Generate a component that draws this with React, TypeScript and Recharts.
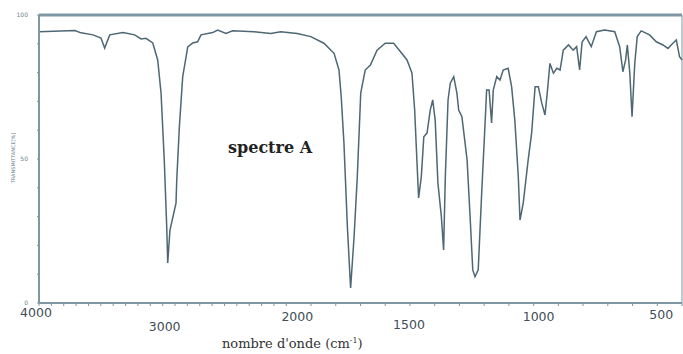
import { LineChart, Line, XAxis, YAxis, ReferenceLine } from 'recharts'

// wavenumber (cm-1) and transmittance (%)
const WAVENUMBERS = [
  4000, 3710, 3660, 3563, 3499, 3469, 3428, 3321, 3226, 3175, 3135, 3080, 3040, 3013, 2987, 2967,
  2959, 2941, 2892, 2886, 2865, 2838, 2797, 2757, 2717, 2690, 2595, 2555, 2488, 2434, 2261, 2126,
  2045, 1956, 1901, 1848, 1807, 1787, 1778, 1767, 1753, 1740, 1726, 1713, 1699, 1694, 1681, 1660,
  1633, 1600, 1566, 1539, 1512, 1492, 1481, 1472, 1465, 1454, 1444, 1431, 1418, 1408, 1398, 1387,
  1380, 1373, 1364, 1357, 1346, 1337, 1323, 1310, 1303, 1290, 1269, 1257, 1246, 1237, 1224, 1210,
  1197, 1190, 1180, 1176, 1170, 1163, 1149, 1136, 1123, 1103, 1089, 1076, 1062, 1055, 1042, 1022,
  1008, 994, 981, 967, 954, 945, 934, 920, 906, 893, 880, 859, 840, 826, 814, 804,
  788, 767, 746, 713, 672, 652, 639, 628, 621, 611, 602, 591, 581, 565, 531, 504,
  477, 457, 437, 423, 410, 400,
]
const TRANSMITTANCE = [
  94.2, 94.6, 93.8, 93.1, 92.0, 88.5, 93.1, 93.9, 93.1, 91.7, 91.9, 90.3, 84.4, 72.9, 49.7, 26.4,
  13.9, 25.3, 34.7, 42.7, 61.1, 78.5, 88.9, 90.3, 90.7, 93.1, 93.9, 94.8, 93.6, 94.5, 94.2, 93.6,
  94.2, 93.6, 92.5, 90.2, 86.7, 80.9, 71.6, 55.6, 26.4, 5.2, 22.9, 43.8, 72.9, 75.1, 80.9, 82.6,
  87.8, 90.2, 90.2, 87.3, 84.4, 79.9, 67.0, 49.7, 36.5, 43.9, 57.7, 59.0, 67.0, 70.5, 63.5, 41.7,
  35.8, 30.0, 18.4, 43.9, 70.5, 76.3, 78.6, 72.8, 67.0, 64.7, 49.7, 30.2, 11.5, 9.1, 11.5, 38.2,
  61.2, 74.0, 74.0, 69.4, 62.5, 74.0, 78.6, 77.4, 80.9, 81.5, 75.1, 63.5, 43.9, 28.8, 34.7, 49.7,
  59.0, 75.1, 75.1, 69.4, 65.3, 72.8, 83.2, 79.8, 81.5, 80.9, 87.8, 89.6, 87.8, 89.0, 80.9, 90.6,
  92.5, 89.0, 94.2, 94.8, 94.2, 89.0, 80.3, 84.4, 89.6, 79.8, 64.7, 83.2, 92.5, 94.5, 93.1, 90.7,
  89.6, 88.4, 90.2, 91.3, 85.5, 84.4,
]
const X_TICK_LABELS = [4000, 3000, 2000, 1500, 1000, 500]
const Y_TICK_LABELS = [0, 50, 100]

// scale changes at 2000 cm-1: below it, one cm-1 takes twice the room
const toPos = (w: number) => (w >= 2000 ? 4000 - w : 2000 + (2000 - w) * 2)

const data = WAVENUMBERS.map((w, i) => ({ pos: toPos(w), t: TRANSMITTANCE[i] }))

const xTicks: number[] = []
for (let w = 4000; w >= 400; w -= 100) xTicks.push(toPos(w))
const yTicks = [0, 10, 20, 30, 40, 50, 60, 70, 80, 90, 100]

// label placement as scanned (labels sit a bit off their ticks)
const LABEL_OFFSET: Record<number, [number, number]> = {
  4000: [-3, 10],
  3000: [2, 24],
  2000: [11, 14],
  1500: [-1, 22],
  1000: [5, 14],
  500: [4, 12],
}

const AXIS = '#7f96a3'
const LINE = '#4e6774'

function XTick(props: any) {
  const { x, payload } = props
  const w = payload.value >= 2000 ? 2000 - (payload.value - 2000) / 2 : 4000 - payload.value
  const wr = Math.round(w)
  if (!X_TICK_LABELS.includes(wr)) return null
  const [dx, dy] = LABEL_OFFSET[wr]
  return (
    <text
      x={x + dx}
      y={303 + dy}
      dy="0.35em"
      textAnchor="middle"
      fontFamily="DejaVu Sans"
      fontSize={12.5}
      fill="#3f4d57"
    >
      {wr}
    </text>
  )
}

function YTick(props: any) {
  const { y, payload } = props
  if (!Y_TICK_LABELS.includes(payload.value)) return null
  return (
    <text x={28} y={y} dy="0.35em" textAnchor="end" fontFamily="DejaVu Sans" fontSize={6} fill="#6d7f8a">
      {payload.value}
    </text>
  )
}

export default function App() {
  return (
    <div style={{ position: 'absolute', left: 0, top: 0, width: 683, height: 354, background: '#fff' }}>
      <LineChart width={683} height={354} data={data} margin={{ top: 15, right: 1, bottom: 21, left: 0 }}>
        <XAxis
          dataKey="pos"
          type="number"
          domain={[0, 5200]}
          ticks={xTicks}
          interval={0}
          tick={<XTick />}
          tickSize={3}
          height={30}
          axisLine={{ stroke: AXIS, strokeWidth: 2 }}
          tickLine={{ stroke: AXIS }}
        />
        <YAxis
          type="number"
          domain={[0, 100]}
          ticks={yTicks}
          interval={0}
          width={39}
          tick={<YTick />}
          tickSize={2}
          axisLine={{ stroke: AXIS, strokeWidth: 2 }}
          tickLine={{ stroke: AXIS }}
        />
        <ReferenceLine y={100} stroke={AXIS} strokeWidth={3} />
        <ReferenceLine x={5200} stroke={AXIS} strokeWidth={1} />
        <Line
          type="linear"
          dataKey="t"
          stroke={LINE}
          strokeWidth={1.5}
          dot={false}
          isAnimationActive={false}
        />
      </LineChart>
      <div
        style={{
          position: 'absolute',
          left: 228,
          top: 138,
          fontFamily: 'DejaVu Serif',
          fontWeight: 'bold',
          fontSize: 16,
          color: '#222',
          whiteSpace: 'nowrap',
        }}
      >
        spectre A
      </div>
      <div
        style={{
          position: 'absolute',
          left: 222,
          top: 336,
          fontFamily: 'DejaVu Serif',
          fontSize: 13,
          color: '#333',
          whiteSpace: 'nowrap',
        }}
      >
        nombre d'onde (cm<sup style={{ fontSize: 8 }}>-1</sup>)
      </div>
      <div
        style={{
          position: 'absolute',
          left: 13,
          top: 158,
          transform: 'translate(-50%, -50%) rotate(-90deg)',
          fontFamily: 'DejaVu Sans',
          fontSize: 5,
          color: '#6d7f8a',
          whiteSpace: 'nowrap',
        }}
      >
        TRANSMITTANCE[%]
      </div>
    </div>
  )
}
